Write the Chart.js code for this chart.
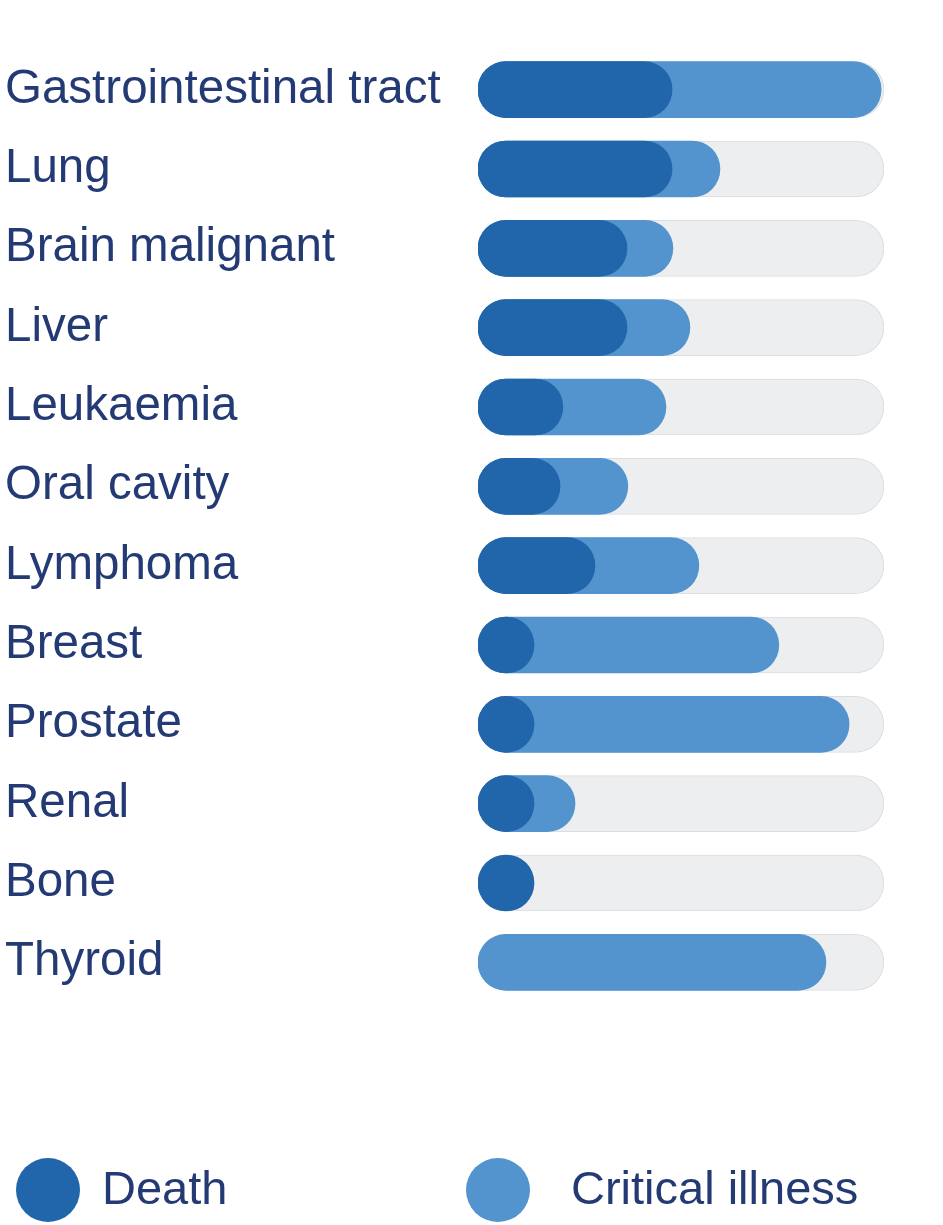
<!DOCTYPE html>
<html>
<head>
<meta charset="utf-8">
<script src="https://cdn.jsdelivr.net/npm/chart.js@4"></script>
<style>
  html, body { margin: 0; padding: 0; background: #ffffff; }
  #wrap { position: relative; width: 943px; height: 1225px; }
  #chart { position: absolute; left: 0; top: 0; }
  .leg { position: absolute; font-family: "Liberation Sans", Arial, sans-serif; font-size: 47px; color: #233a74; line-height: 1; }
  .dot { position: absolute; width: 64px; height: 64px; border-radius: 50%; }
</style>
</head>
<body>
<div id="wrap">
  <canvas id="chart" width="943" height="1225"></canvas>
  <div id="legend"></div>
</div>
<script>
const categories = ["Gastrointestinal tract", "Lung", "Brain malignant", "Liver", "Leukaemia", "Oral cavity", "Lymphoma", "Breast", "Prostate", "Renal", "Bone", "Thyroid"];
const deathValues = [47.8, 47.8, 36.7, 36.7, 20.9, 20.2, 28.8, 13.8, 13.8, 13.8, 13.8, null];
const illnessValues = [99.3, 59.6, 48.0, 52.2, 46.3, 36.9, 54.4, 74.1, 91.4, 23.9, null, 85.7];
const trackValues = [100, 100, 100, 100, 100, 100, 100, 100, 100, 100, 100, 100];
const seriesLabels = ["Death", "Critical illness"];
const axisMax = 100;

const DARK = "#2166ab";
const LIGHT = "#5394cf";
const TRACK = "#edeef0";
const TEXT = "#233a74";

const common = { grouped: false, barThickness: 56, borderRadius: 28, borderSkipped: false };

new Chart(document.getElementById("chart"), {
  type: "bar",
  data: {
    labels: categories,
    datasets: [
      Object.assign({ label: seriesLabels[0], data: deathValues, backgroundColor: DARK, order: 1, borderWidth: 0 }, common),
      Object.assign({ label: seriesLabels[1], data: illnessValues, backgroundColor: LIGHT, order: 2, borderWidth: 0 }, common),
      Object.assign({ label: "track", data: trackValues, backgroundColor: TRACK, borderColor: "#dcdde0", borderWidth: 1, order: 3 }, common)
    ]
  },
  options: {
    indexAxis: "y",
    responsive: false,
    animation: false,
    layout: { padding: { left: 5, right: 59, top: 50, bottom: 223 } },
    plugins: { legend: { display: false }, tooltip: { enabled: false } },
    scales: {
      x: { display: false, min: 0, max: axisMax },
      y: {
        grid: { display: false },
        border: { display: false },
        afterFit: (s) => { s.width = 473; },
        ticks: {
          crossAlign: "far",
          color: TEXT,
          font: { family: "'Liberation Sans', Arial, sans-serif", size: 47.5 }
        }
      }
    }
  }
});

// HTML legend built from series labels
const legend = document.getElementById("legend");
const legendItems = [
  { label: seriesLabels[0], color: DARK, dotX: 16, textX: 102 },
  { label: seriesLabels[1], color: LIGHT, dotX: 466, textX: 571 }
];
legendItems.forEach(it => {
  const d = document.createElement("div");
  d.className = "dot";
  d.style.left = it.dotX + "px";
  d.style.top = "1158px";
  d.style.background = it.color;
  legend.appendChild(d);
  const t = document.createElement("div");
  t.className = "leg";
  t.style.left = it.textX + "px";
  t.style.top = "1164px";
  t.textContent = it.label;
  legend.appendChild(t);
});
</script>
</body>
</html>
